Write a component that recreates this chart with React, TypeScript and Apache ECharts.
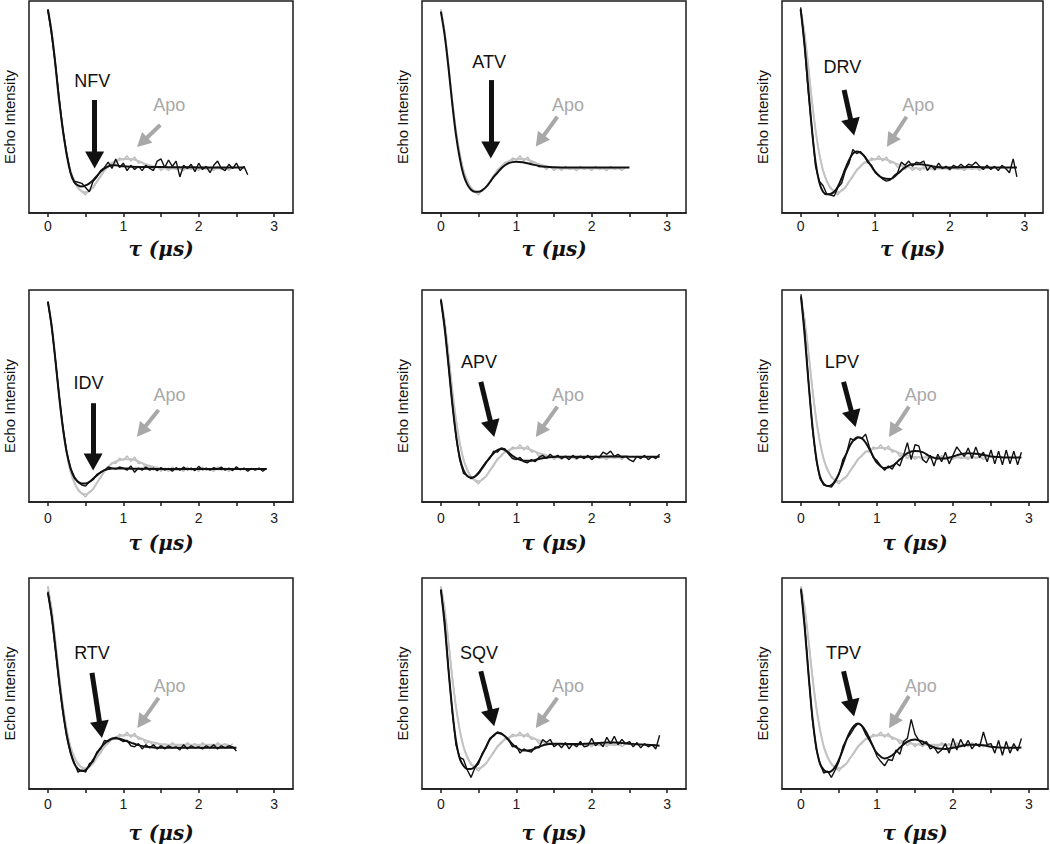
import React, { useEffect, useRef } from "react";
import * as echarts from "echarts";

// ---------- DATA ----------
// time axis samples (µs)
const T_RAW = [0,0.05,0.1,0.15,0.2,0.25,0.3,0.35,0.4,0.45,0.5,0.55,0.6,0.65,0.7,0.75,0.8,0.85,0.9,0.95,1,1.05,1.1,1.15,1.2,1.25,1.3,1.35,1.4,1.45,1.5,1.55,1.6,1.65,1.7,1.75,1.8,1.85,1.9,1.95,2,2.05,2.1,2.15,2.2,2.25,2.3,2.35,2.4,2.45,2.5,2.55,2.6,2.65,2.7,2.75,2.8,2.85,2.9];
const T_FIT = [0,0.05,0.1,0.15,0.2,0.25,0.3,0.35,0.4,0.45,0.5,0.55,0.6,0.65,0.7,0.75,0.8,0.85,0.9,0.95,1,1.1,1.2,1.3,1.4,1.5,1.6,1.7,1.8,1.9,2,2.1,2.2,2.3,2.4,2.5,2.6,2.7,2.8,2.9];

const X_TICKS = [0,0.5,1,1.5,2,2.5,3];
const X_LABELS = [0,1,2,3];

// Apo (drug-free) reference trace
const APO_RAW = [0.96,0.86,0.70,0.54,0.39,0.28,0.20,0.155,0.115,0.10,0.085,0.11,0.12,0.15,0.17,0.205,0.215,0.24,0.235,0.26,0.25,0.27,0.245,0.265,0.235,0.24,0.215,0.225,0.205,0.22,0.20,0.215,0.20,0.22,0.205,0.21,0.20,0.22,0.205,0.215,0.20,0.22,0.205,0.21,0.20,0.22,0.205,0.215,0.20,0.215];
const APO_FIT = [0.96,0.85,0.70,0.53,0.39,0.28,0.20,0.15,0.12,0.103,0.098,0.105,0.122,0.148,0.175,0.20,0.22,0.235,0.245,0.25,0.255,0.255,0.245,0.23,0.22,0.212,0.21,0.21,0.21,0.21,0.21,0.21,0.21,0.21,0.21];

const NFV_RAW = [0.96,0.84,0.70,0.54,0.39,0.28,0.19,0.15,0.145,0.14,0.12,0.10,0.15,0.17,0.20,0.215,0.24,0.21,0.255,0.215,0.235,0.20,0.225,0.205,0.22,0.20,0.225,0.21,0.20,0.245,0.255,0.215,0.25,0.22,0.245,0.17,0.225,0.21,0.23,0.195,0.235,0.205,0.22,0.19,0.225,0.245,0.21,0.20,0.23,0.21,0.235,0.20,0.22,0.18];
const NFV_FIT = [0.96,0.85,0.70,0.53,0.39,0.275,0.19,0.145,0.13,0.125,0.13,0.14,0.155,0.175,0.195,0.21,0.22,0.225,0.225,0.222,0.22,0.218,0.217,0.217,0.217,0.217,0.216,0.216,0.216,0.216,0.215,0.215,0.215,0.215,0.215,0.215,0.215];

const ATV_RAW: number[] = [];
const ATV_FIT = [0.95,0.84,0.69,0.52,0.37,0.26,0.18,0.135,0.11,0.10,0.10,0.108,0.123,0.145,0.17,0.19,0.21,0.225,0.235,0.24,0.242,0.238,0.23,0.222,0.218,0.216,0.215,0.215,0.215,0.215,0.215,0.215,0.215,0.215,0.215,0.215];

const DRV_RAW = [0.97,0.80,0.58,0.40,0.22,0.15,0.13,0.09,0.085,0.08,0.12,0.14,0.20,0.235,0.30,0.28,0.29,0.27,0.24,0.225,0.19,0.175,0.16,0.15,0.155,0.175,0.19,0.24,0.225,0.245,0.22,0.24,0.235,0.245,0.20,0.225,0.205,0.235,0.21,0.22,0.205,0.225,0.215,0.23,0.215,0.23,0.225,0.24,0.22,0.205,0.225,0.205,0.22,0.20,0.225,0.21,0.19,0.255,0.17];
const DRV_FIT = [0.96,0.80,0.60,0.40,0.24,0.145,0.10,0.088,0.09,0.10,0.125,0.165,0.21,0.25,0.28,0.29,0.285,0.27,0.245,0.22,0.195,0.165,0.16,0.185,0.215,0.23,0.23,0.225,0.218,0.215,0.215,0.215,0.216,0.217,0.216,0.215,0.215,0.215,0.215,0.215];

const IDV_RAW = [0.945,0.83,0.67,0.50,0.35,0.235,0.16,0.12,0.095,0.08,0.075,0.095,0.105,0.13,0.14,0.15,0.165,0.16,0.155,0.165,0.16,0.15,0.17,0.14,0.16,0.15,0.165,0.15,0.16,0.148,0.162,0.15,0.158,0.145,0.162,0.15,0.165,0.152,0.16,0.148,0.168,0.152,0.16,0.15,0.162,0.155,0.165,0.15,0.16,0.148,0.166,0.152,0.16,0.145,0.158,0.15,0.16,0.145,0.158];
const IDV_FIT = [0.945,0.83,0.67,0.50,0.35,0.235,0.16,0.115,0.095,0.087,0.087,0.095,0.11,0.125,0.14,0.15,0.155,0.158,0.158,0.158,0.158,0.157,0.157,0.157,0.156,0.156,0.156,0.156,0.156,0.156,0.156,0.156,0.156,0.156,0.156,0.156,0.156,0.156,0.156,0.156];

const APV_RAW = [0.955,0.83,0.65,0.47,0.31,0.20,0.135,0.125,0.11,0.12,0.14,0.165,0.19,0.205,0.24,0.235,0.255,0.25,0.225,0.205,0.20,0.21,0.19,0.185,0.20,0.19,0.21,0.22,0.205,0.225,0.21,0.22,0.205,0.215,0.20,0.22,0.205,0.215,0.205,0.22,0.20,0.215,0.21,0.235,0.225,0.24,0.215,0.225,0.21,0.215,0.20,0.19,0.215,0.205,0.22,0.20,0.215,0.205,0.225];
const APV_FIT = [0.955,0.82,0.65,0.47,0.32,0.21,0.15,0.122,0.115,0.12,0.135,0.16,0.185,0.21,0.23,0.245,0.25,0.245,0.232,0.218,0.207,0.195,0.195,0.203,0.21,0.213,0.214,0.214,0.214,0.214,0.214,0.214,0.215,0.215,0.215,0.214,0.213,0.213,0.213,0.213];

const LPV_RAW = [0.98,0.80,0.56,0.35,0.20,0.11,0.08,0.075,0.07,0.095,0.13,0.20,0.23,0.30,0.29,0.305,0.30,0.32,0.26,0.21,0.195,0.17,0.15,0.17,0.155,0.185,0.17,0.22,0.28,0.20,0.27,0.265,0.20,0.185,0.22,0.17,0.225,0.19,0.235,0.18,0.22,0.26,0.235,0.215,0.255,0.205,0.26,0.21,0.235,0.19,0.245,0.18,0.24,0.175,0.245,0.18,0.24,0.175,0.235];
const LPV_FIT = [0.97,0.78,0.56,0.36,0.21,0.12,0.085,0.075,0.08,0.10,0.135,0.18,0.23,0.27,0.295,0.305,0.30,0.28,0.25,0.215,0.185,0.16,0.17,0.20,0.23,0.24,0.235,0.215,0.205,0.205,0.215,0.225,0.23,0.228,0.222,0.215,0.212,0.21,0.21,0.21];

const RTV_RAW = [0.935,0.82,0.66,0.50,0.36,0.25,0.17,0.125,0.08,0.09,0.08,0.12,0.13,0.175,0.19,0.23,0.225,0.24,0.245,0.235,0.225,0.23,0.205,0.20,0.215,0.19,0.21,0.195,0.21,0.19,0.205,0.19,0.205,0.195,0.20,0.185,0.21,0.19,0.205,0.195,0.20,0.19,0.205,0.195,0.21,0.19,0.205,0.195,0.205,0.20,0.18];
const RTV_FIT = [0.93,0.82,0.67,0.51,0.37,0.255,0.175,0.12,0.095,0.085,0.09,0.11,0.138,0.168,0.195,0.215,0.23,0.238,0.24,0.238,0.232,0.22,0.208,0.20,0.197,0.196,0.196,0.196,0.196,0.196,0.196,0.196,0.196,0.196,0.196,0.196];

const SQV_RAW = [0.945,0.80,0.57,0.37,0.21,0.15,0.14,0.09,0.055,0.10,0.12,0.17,0.195,0.24,0.25,0.27,0.265,0.25,0.23,0.20,0.205,0.17,0.19,0.18,0.175,0.20,0.195,0.235,0.22,0.235,0.20,0.215,0.195,0.22,0.19,0.215,0.20,0.225,0.20,0.205,0.24,0.205,0.22,0.20,0.245,0.215,0.25,0.21,0.235,0.215,0.225,0.20,0.22,0.195,0.215,0.20,0.21,0.19,0.255];
const SQV_FIT = [0.945,0.78,0.57,0.38,0.23,0.145,0.11,0.095,0.095,0.105,0.13,0.165,0.20,0.235,0.255,0.265,0.262,0.25,0.232,0.212,0.197,0.182,0.185,0.20,0.212,0.215,0.214,0.213,0.213,0.214,0.216,0.218,0.22,0.22,0.218,0.215,0.212,0.21,0.208,0.205];

const TPV_RAW = [0.95,0.77,0.54,0.33,0.19,0.12,0.075,0.085,0.055,0.09,0.13,0.20,0.235,0.26,0.29,0.31,0.30,0.26,0.23,0.20,0.155,0.13,0.11,0.14,0.135,0.185,0.165,0.225,0.24,0.33,0.26,0.23,0.21,0.225,0.19,0.20,0.17,0.185,0.215,0.17,0.24,0.185,0.235,0.20,0.23,0.19,0.215,0.20,0.27,0.21,0.215,0.17,0.23,0.16,0.225,0.17,0.215,0.18,0.24];
const TPV_FIT = [0.945,0.76,0.54,0.34,0.20,0.12,0.09,0.08,0.085,0.105,0.14,0.185,0.235,0.275,0.30,0.31,0.30,0.275,0.24,0.20,0.17,0.145,0.16,0.195,0.225,0.235,0.225,0.205,0.192,0.19,0.195,0.203,0.21,0.21,0.207,0.20,0.197,0.195,0.195,0.197];

const PANELS = [
  { name: "NFV", raw: NFV_RAW, fit: NFV_FIT },
  { name: "ATV", raw: ATV_RAW, fit: ATV_FIT },
  { name: "DRV", raw: DRV_RAW, fit: DRV_FIT },
  { name: "IDV", raw: IDV_RAW, fit: IDV_FIT },
  { name: "APV", raw: APV_RAW, fit: APV_FIT },
  { name: "LPV", raw: LPV_RAW, fit: LPV_FIT },
  { name: "RTV", raw: RTV_RAW, fit: RTV_FIT },
  { name: "SQV", raw: SQV_RAW, fit: SQV_FIT },
  { name: "TPV", raw: TPV_RAW, fit: TPV_FIT },
];

// ---------- LAYOUT / ANNOTATION CONFIG ----------
const ROW_TOP = [1, 290, 578];
const PANEL_H = 212;
const COL_LEFT = [29, 422, 782];
const COL_W = [[264, 264, 261], [264, 264, 266], [264, 264, 266]];
const LABEL_MARGIN = [6, 9, 8];
const NAME_GAP = [26, 31, 34];
// apo trace scaling per panel (axis range)
const APO_RANGE = [[0, 1], [0, 1], [0, 1], [0.063, 1.013], [0, 1], [0, 1], [0, 1], [0, 1], [0, 1]];

// annotation: [label pos], [arrow start, arrow head]
const ANNOT = [
  { lab: [0.59, 0.623], arr: [[0.62, 0.533], [0.62, 0.25]], apoLab: [1.61, 0.51], apoArr: [[1.49, 0.415], [1.25, 0.334]] },
  { lab: [0.64, 0.714], arr: [[0.662, 0.627], [0.662, 0.297]], apoLab: [1.686, 0.509], apoArr: [[1.545, 0.454], [1.313, 0.34]] },
  { lab: [0.56, 0.69], arr: [[0.583, 0.58], [0.693, 0.405]], apoLab: [1.576, 0.509], apoArr: [[1.42, 0.454], [1.208, 0.34]] },
  { lab: [0.54, 0.56], arr: [[0.6, 0.466], [0.6, 0.189]], apoLab: [1.613, 0.505], apoArr: [[1.468, 0.434], [1.24, 0.334]] },
  { lab: [0.507, 0.662], arr: [[0.53, 0.567], [0.681, 0.345]], apoLab: [1.686, 0.505], apoArr: [[1.545, 0.45], [1.313, 0.334]] },
  { lab: [0.538, 0.662], arr: [[0.56, 0.567], [0.689, 0.392]], apoLab: [1.576, 0.505], apoArr: [[1.42, 0.45], [1.208, 0.334]] },
  { lab: [0.585, 0.645], arr: [[0.585, 0.55], [0.70, 0.281]], apoLab: [1.613, 0.487], apoArr: [[1.468, 0.432], [1.24, 0.316]] },
  { lab: [0.507, 0.645], arr: [[0.53, 0.558], [0.681, 0.336]], apoLab: [1.686, 0.487], apoArr: [[1.545, 0.432], [1.313, 0.316]] },
  { lab: [0.56, 0.645], arr: [[0.56, 0.558], [0.673, 0.383]], apoLab: [1.576, 0.487], apoArr: [[1.42, 0.44], [1.208, 0.316]] },
];

const BLACK = "#111111";
const GREY = "#a8a8a8";
const SANS = "'Liberation Sans', Arial, sans-serif";

function pairs(t: number[], v: number[]) {
  return v.map((y, i) => [t[i], y]);
}

function buildOption() {
  const grid: any[] = [];
  const xAxis: any[] = [];
  const yAxis: any[] = [];
  const series: any[] = [];

  PANELS.forEach((p, i) => {
    const r = Math.floor(i / 3);
    const c = i % 3;
    grid.push({
      left: COL_LEFT[c], top: ROW_TOP[r], width: COL_W[r][c], height: PANEL_H,
      show: true, borderColor: "#1a1a1a", borderWidth: 1.5, backgroundColor: "#fff",
    });
    xAxis.push({
      gridIndex: i, type: "value", min: -0.25, max: 3.25,
      axisLine: { show: true, onZero: false, lineStyle: { color: "#1a1a1a", width: 1.5 } },
      axisTick: { show: true, inside: false, length: 4, customValues: X_TICKS, lineStyle: { color: "#1a1a1a", width: 1.5 } },
      axisLabel: { show: true, customValues: X_LABELS, margin: LABEL_MARGIN[r], fontSize: 14, color: "#1a1a1a", fontFamily: SANS },
      splitLine: { show: false },
      name: "τ (μs)", nameLocation: "middle", nameGap: NAME_GAP[r],
      nameTextStyle: { fontFamily: "'DejaVu Serif', serif", fontStyle: "italic", fontWeight: "bold", fontSize: 20, color: "#111" },
    });
    yAxis.push({
      gridIndex: i, type: "value", min: 0, max: 1,
      axisLine: { show: false }, axisTick: { show: false }, axisLabel: { show: false }, splitLine: { show: false },
      name: "Echo Intensity", nameLocation: "middle", nameGap: 12, nameRotate: 90,
      nameTextStyle: { fontFamily: SANS, fontSize: 15, color: "#111", padding: [0, 20, 0, 0] },
    });
    yAxis.push({
      gridIndex: i, type: "value", min: APO_RANGE[i][0], max: APO_RANGE[i][1], show: false,
      splitLine: { show: false },
    });

    const a = ANNOT[i];
    series.push({
      type: "line", xAxisIndex: i, yAxisIndex: 2 * i + 1, data: pairs(T_RAW, APO_RAW),
      symbol: "none", silent: true, z: 2, lineStyle: { color: "#b9b9b9", width: 1.3 },
    });
    series.push({
      type: "line", xAxisIndex: i, yAxisIndex: 2 * i + 1, data: pairs(T_FIT, APO_FIT),
      symbol: "none", silent: true, smooth: 0.4, z: 2, lineStyle: { color: "#c3c3c3", width: 2 },
    });
    if (p.raw.length) {
      series.push({
        type: "line", xAxisIndex: i, yAxisIndex: 2 * i, data: pairs(T_RAW, p.raw),
        symbol: "none", silent: true, z: 3, lineStyle: { color: BLACK, width: 1.4 },
      });
    }
    series.push({
      type: "line", xAxisIndex: i, yAxisIndex: 2 * i, data: pairs(T_FIT, p.fit),
      symbol: "none", silent: true, smooth: 0.4, z: 4, lineStyle: { color: BLACK, width: 2 },
      markLine: {
        silent: true, animation: false, symbol: ["none", "triangle"], label: { show: false },
        emphasis: { disabled: true },
        data: [
          [
            { coord: a.arr[0], symbol: "none", lineStyle: { color: BLACK, width: 5, type: "solid" } },
            { coord: a.arr[1], symbol: "triangle", symbolSize: [19, 17], lineStyle: { color: BLACK, width: 5, type: "solid" } },
          ],
          [
            { coord: a.apoArr[0], symbol: "none", lineStyle: { color: GREY, width: 4, type: "solid" } },
            { coord: a.apoArr[1], symbol: "triangle", symbolSize: [15, 14], lineStyle: { color: GREY, width: 4, type: "solid" } },
          ],
        ],
      },
      markPoint: {
        silent: true, animation: false, symbol: "circle", symbolSize: 1,
        itemStyle: { color: "rgba(0,0,0,0)" },
        data: [
          { coord: a.lab, label: { show: true, position: "inside", formatter: p.name, color: BLACK, fontSize: 18, fontFamily: SANS } },
          { coord: a.apoLab, label: { show: true, position: "inside", formatter: "Apo", color: GREY, fontSize: 18, fontFamily: SANS } },
        ],
      },
    });
  });

  return { animation: false, backgroundColor: "#fff", grid, xAxis, yAxis, series };
}

export default function App() {
  const ref = useRef<HTMLDivElement>(null);
  useEffect(() => {
    const chart = echarts.init(ref.current as HTMLDivElement, null, { renderer: "svg" });
    chart.setOption(buildOption() as any);
    return () => chart.dispose();
  }, []);
  return (
    <div
      ref={ref}
      style={{ position: "absolute", left: 0, top: 0, width: 1050, height: 844, background: "#fff" }}
    />
  );
}
